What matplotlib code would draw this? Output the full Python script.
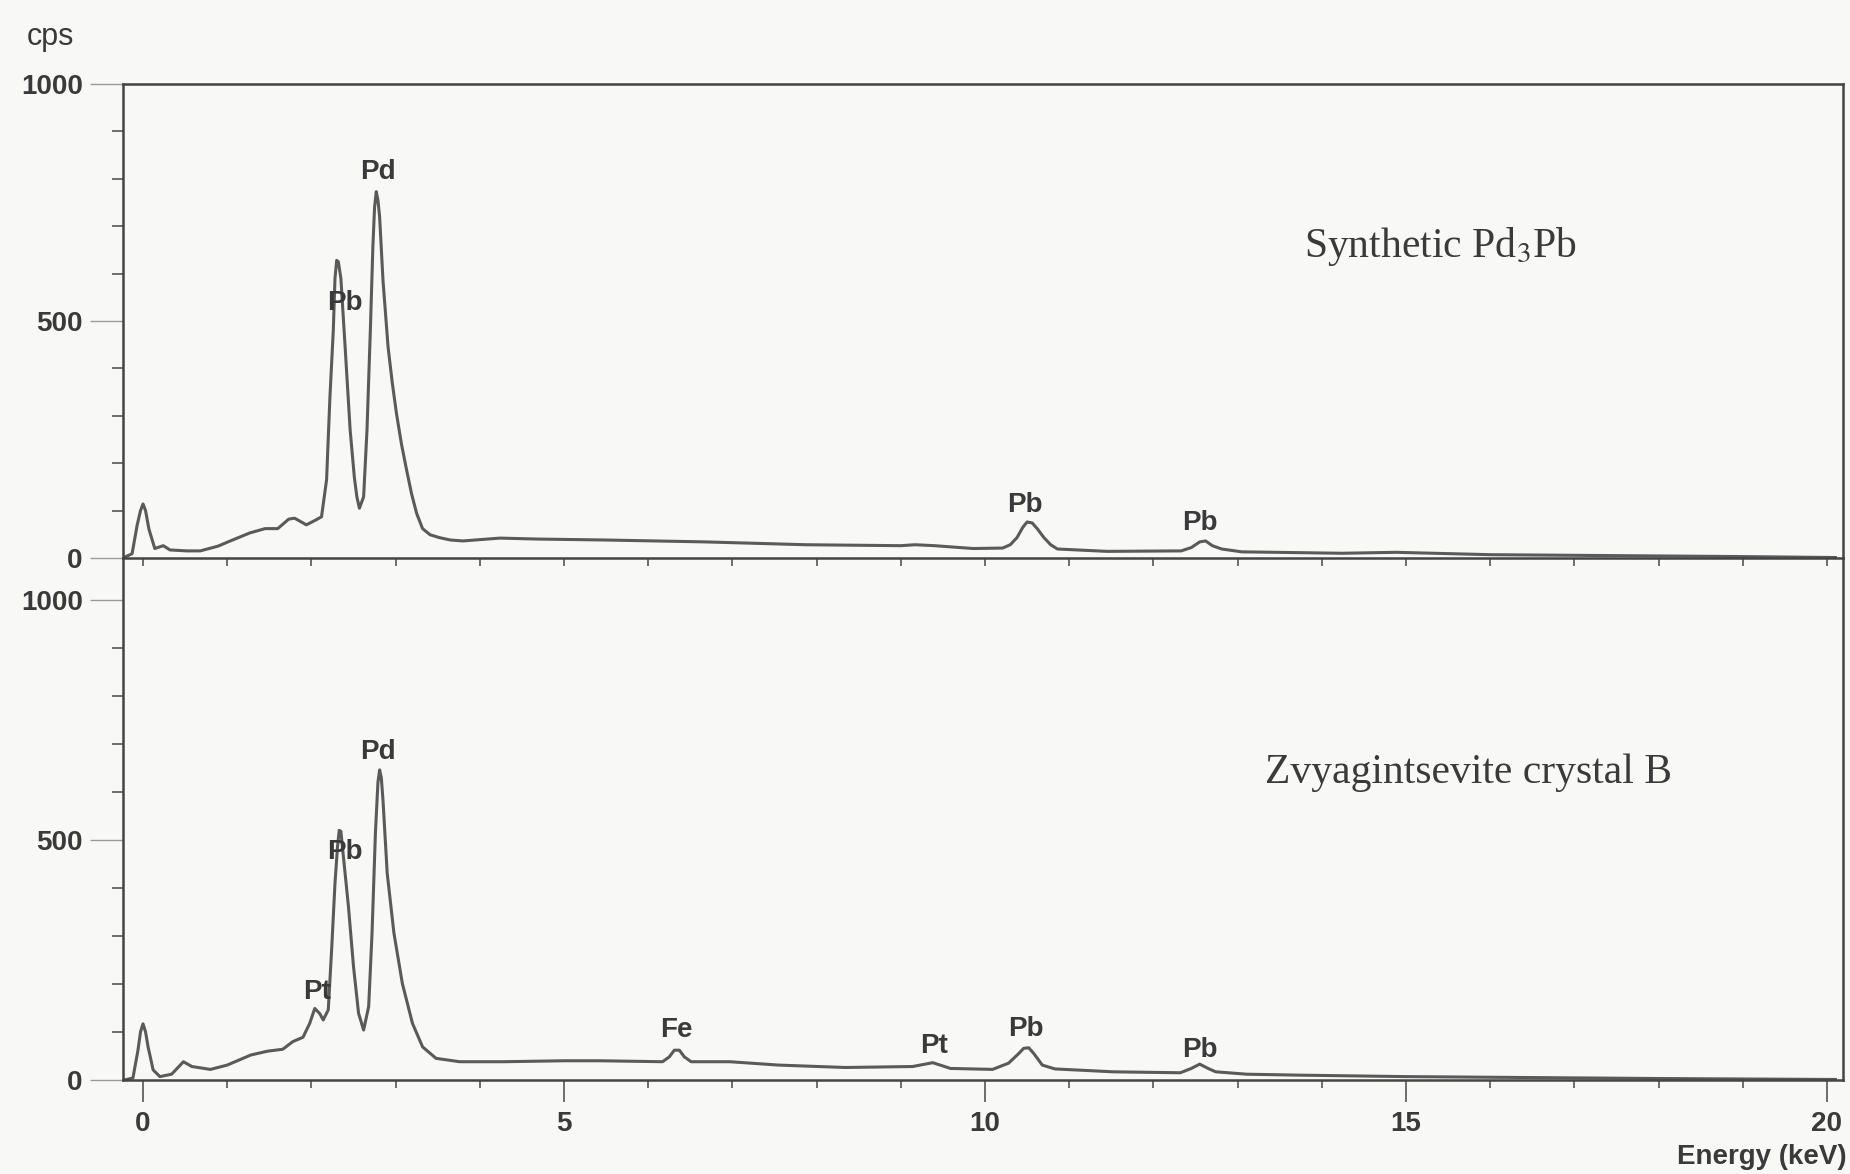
import numpy as np
import matplotlib.pyplot as plt
from matplotlib.ticker import MultipleLocator

# EDS spectra (energy in keV, counts per second)
top_kev = [-0.24, -0.13, -0.07, -0.03, 0.0, 0.03, 0.07, 0.14, 0.24, 0.32,
           0.52, 0.68, 0.89, 1.05, 1.27, 1.45, 1.60, 1.73, 1.80, 1.94,
           2.05, 2.12, 2.18, 2.22, 2.26, 2.28, 2.30, 2.32, 2.35, 2.40,
           2.46, 2.51, 2.54, 2.57, 2.62, 2.66, 2.70, 2.73, 2.75, 2.77,
           2.79, 2.81, 2.85, 2.91, 2.96, 3.01, 3.07, 3.13, 3.19, 3.25,
           3.32, 3.41, 3.52, 3.65, 3.80, 4.24, 4.68, 5.48, 6.67, 7.87,
           9.00, 9.17, 9.40, 9.86, 10.21, 10.30, 10.38, 10.45, 10.50, 10.56,
           10.62, 10.70, 10.78, 10.86, 11.45, 12.33, 12.45, 12.55, 12.62, 12.70,
           12.81, 13.05, 14.24, 14.88, 16.0, 17.5, 19.0, 20.1]
top_cps = [0, 9, 69, 100, 114, 100, 61, 20, 26, 17,
           15, 15, 25, 37, 53, 62, 62, 82, 84, 70,
           80, 87, 165, 340, 481, 590, 628, 625, 590, 446,
           270, 170, 129, 105, 129, 270, 481, 657, 740, 773,
           755, 720, 586, 446, 370, 305, 240, 186, 135, 94,
           62, 49, 43, 38, 36, 42, 40, 38, 34, 28,
           26, 28, 26, 20, 21, 28, 43, 65, 76, 74,
           62, 43, 28, 19, 14, 15, 22, 34, 36, 26,
           19, 13, 10, 12, 7, 5, 3, 1]

bot_kev = [-0.22, -0.12, -0.06, -0.03, 0.0, 0.03, 0.06, 0.12, 0.20, 0.34,
           0.48, 0.58, 0.80, 1.00, 1.28, 1.48, 1.66, 1.78, 1.90, 1.98,
           2.04, 2.10, 2.14, 2.20, 2.24, 2.28, 2.31, 2.33, 2.35, 2.38,
           2.44, 2.50, 2.56, 2.62, 2.68, 2.72, 2.76, 2.79, 2.81, 2.83,
           2.85, 2.90, 2.98, 3.08, 3.20, 3.32, 3.48, 3.76, 4.28, 5.00,
           5.43, 6.17, 6.25, 6.31, 6.37, 6.43, 6.51, 6.97, 7.55, 8.34,
           9.14, 9.38, 9.59, 10.09, 10.28, 10.40, 10.46, 10.52, 10.58, 10.68,
           10.83, 11.52, 12.32, 12.45, 12.55, 12.65, 12.74, 13.11, 13.74, 15.0,
           16.5, 18.0, 20.1]
bot_cps = [0, 4, 62, 100, 117, 100, 69, 21, 7, 12,
           38, 28, 22, 31, 52, 60, 64, 80, 89, 118,
           149, 138, 125, 146, 271, 410, 486, 520, 518, 465,
           361, 236, 139, 104, 153, 306, 514, 620, 646, 630,
           583, 431, 306, 201, 118, 69, 45, 38, 38, 40,
           40, 38, 48, 62, 62, 48, 38, 38, 31, 26,
           28, 36, 24, 22, 35, 55, 66, 67, 55, 31,
           23, 17, 15, 24, 33, 24, 17, 12, 10, 7,
           5, 3, 1]

# peak labels (element, energy, cps)
top_peaks = [("Pd", 2.79, 814), ("Pb", 2.40, 538), ("Pb", 10.47, 112), ("Pb", 12.55, 74)]
bot_peaks = [("Pd", 2.79, 683), ("Pb", 2.40, 475), ("Pt", 2.07, 183), ("Fe", 6.34, 104),
             ("Pt", 9.39, 71), ("Pb", 10.49, 106), ("Pb", 12.55, 62)]

ink = "#3a3a3a"
sans = ["Liberation Sans", "DejaVu Sans"]
plt.rcParams["mathtext.fontset"] = "stix"

fig = plt.figure(figsize=(18.5, 11.74), dpi=100, facecolor="#f8f8f7")
ax1 = fig.add_axes([0.0665, 0.5247, 0.9297, 0.4037])
ax2 = fig.add_axes([0.0665, 0.0801, 0.9297, 0.4446])

for ax in (ax1, ax2):
    ax.set_facecolor("none")
    ax.set_xlim(-0.2375, 20.19)
    for s in ax.spines.values():
        s.set_color("#444444")
        s.set_linewidth(1.8)
    ax.yaxis.set_major_locator(MultipleLocator(500))
    ax.yaxis.set_minor_locator(MultipleLocator(100))
    ax.xaxis.set_minor_locator(MultipleLocator(1))
    ax.tick_params(axis="y", which="major", length=24, width=1, color="#9a9a9a",
                   pad=5, labelsize=20, labelcolor=ink)
    ax.tick_params(axis="y", which="minor", length=8, width=1.2, color="#555555")
    ax.tick_params(axis="x", which="minor", length=6, width=1.2, color="#555555")
    for lab in ax.get_yticklabels():
        lab.set_fontfamily(sans)
        lab.set_fontweight("bold")

ax1.set_ylim(0, 1000)
ax2.set_ylim(0, 1087.5)
ax2.spines["top"].set_visible(False)

ax1.set_xticks([0, 5, 10, 15, 20])
ax1.tick_params(axis="x", which="major", length=6, width=1.2, color="#555555",
                labelbottom=False)
ax2.set_xticks([0, 5, 10, 15, 20])
ax2.tick_params(axis="x", which="major", length=16, width=1.2, color="#555555",
                pad=6, labelsize=20, labelcolor=ink)
for lab in ax2.get_xticklabels():
    lab.set_fontfamily(sans)
    lab.set_fontweight("bold")

ax1.plot(top_kev, top_cps, color="#5a5a5a", lw=2.2, solid_joinstyle="round")
ax2.plot(bot_kev, bot_cps, color="#5a5a5a", lw=2.2, solid_joinstyle="round")

for ax, peaks in ((ax1, top_peaks), (ax2, bot_peaks)):
    for name, x, y in peaks:
        ax.text(x, y, name, ha="center", va="center", fontsize=20,
                fontweight="bold", family=sans, color=ink)

ax1.text(13.79, 635, "Synthetic Pd$_3$Pb", ha="left", va="baseline",
         fontsize=30, family="Liberation Serif", color=ink)
ax2.text(13.33, 619, "Zvyagintsevite crystal B", ha="left", va="baseline",
         fontsize=30, family="Liberation Serif", color=ink)

fig.text(50 / 1850, 1 - 37 / 1174, "cps", ha="center", va="center",
         fontsize=22, family=sans, color=ink)
fig.text(1847 / 1850, 0.003, "Energy (keV)", ha="right", va="bottom",
         fontsize=20, fontweight="bold", family=sans, color=ink)

fig.savefig("out.png", dpi=100, facecolor=fig.get_facecolor())
